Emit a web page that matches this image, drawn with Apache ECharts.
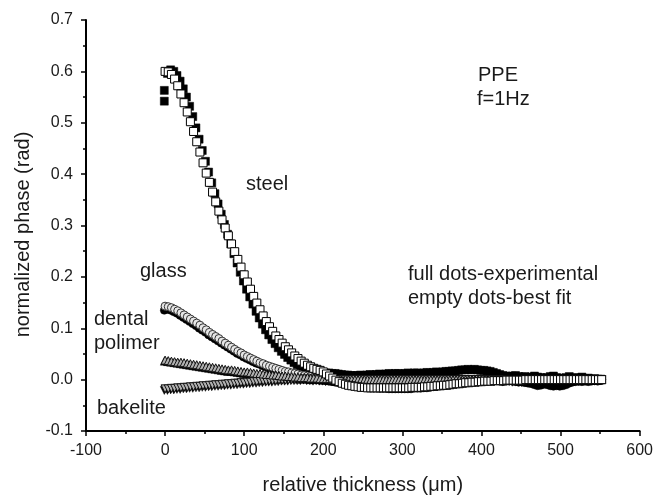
<!DOCTYPE html>
<html>
<head>
<meta charset="utf-8">
<script src="https://cdn.jsdelivr.net/npm/echarts@6/dist/echarts.min.js"></script>
<style>html,body{margin:0;padding:0;background:#fff}#chart{width:656px;height:500px}</style>
</head>
<body>
<div id="chart"></div>
<script>
// ---- data ----
const xTickLabels = ['-100','0','100','200','300','400','500','600'];
const yTickLabels = ['-0.1','0.0','0.1','0.2','0.3','0.4','0.5','0.6','0.7'];

// thickness (µm) of best-fit points
const fitX = [
0,4,8,12,16,20,24,28,32,36,
40,44,48,52,56,60,64,68,72,76,
80,84,88,92,96,100,104,108,112,116,
120,124,128,132,136,140,144,148,152,156,
160,164,168,172,176,180,184,188,192,196,
200,204,208,212,216,220,224,228,232,236,
240,244,248,252,256,260,264,268,272,276,
280,284,288,292,296,300,304,308,312,316,
320,324,328,332,336,340,344,348,352,356,
360,364,368,372,376,380,384,388,392,396,
400,404,408,412,416,420,424,428,432,436,
440,444,448,452,456,460,464,468,472,476,
480,484,488,492,496,500,504,508,512,516,
520,524,528,532,536,540,544,548,552];

// thickness (µm) of experimental points
const expX = [
-1,3,7,11,15,19,23,27,31,35,
39,43,47,51,55,59,63,67,71,75,
79,83,87,91,95,99,103,107,111,115,
119,123,127,131,135,139,143,147,151,155,
159,163,167,171,175,179,183,187,191,195,
199,203,207,211,215,219,223,227,231,235,
239,243,247,251,255,259,263,267,271,275,
279,283,287,291,295,299,303,307,311,315,
319,323,327,331,335,339,343,347,351,355,
359,363,367,371,375,379,383,387,391,395,
399,403,407,411,415,419,423,427,431,435,
439,443,447,451,455,459,463,467,471,475,
479,483,487,491,495,499,503,507,511,515,
519,523,527,531,535,539,543,547,551];

const steelFit = [
0.600,0.599,0.594,0.585,0.572,0.556,0.539,0.521,0.502,0.483,
0.463,0.443,0.422,0.402,0.384,0.365,0.346,0.328,0.311,0.295,
0.280,0.264,0.249,0.234,0.219,0.204,0.190,0.176,0.162,0.149,
0.136,0.124,0.113,0.103,0.094,0.085,0.078,0.071,0.064,0.058,
0.052,0.046,0.041,0.036,0.032,0.028,0.025,0.022,0.020,0.018,
0.015,0.011,0.007,0.003,-0.001,-0.004,-0.007,-0.009,-0.011,-0.012,
-0.013,-0.014,-0.015,-0.015,-0.016,-0.016,-0.016,-0.016,-0.016,-0.016,
-0.016,-0.016,-0.016,-0.016,-0.016,-0.016,-0.016,-0.016,-0.015,-0.015,
-0.015,-0.015,-0.014,-0.014,-0.013,-0.013,-0.012,-0.012,-0.011,-0.011,
-0.010,-0.009,-0.008,-0.008,-0.007,-0.006,-0.006,-0.005,-0.005,-0.004,
-0.004,-0.003,-0.003,-0.003,-0.002,-0.002,-0.002,-0.002,-0.001,-0.001,
-0.001,-0.001,-0.001,-0.001,0.000,0.000,0.000,0.000,0.000,0.000,
0.000,0.000,0.000,0.000,0.000,0.000,0.000,0.000,0.000,0.000,
0.000,0.000,0.000,0.000,0.000,0.000,0.000,0.000,0.000];

const glassFit = [
0.143,0.142,0.140,0.137,0.134,0.130,0.126,0.122,0.118,0.114,
0.110,0.106,0.101,0.097,0.092,0.088,0.084,0.080,0.075,0.071,
0.067,0.063,0.059,0.055,0.052,0.048,0.045,0.042,0.039,0.036,
0.033,0.031,0.028,0.026,0.024,0.022,0.020,0.018,0.016,0.015,
0.013,0.012,0.011,0.009,0.008,0.007,0.006,0.005,0.004,0.003,
0.003,0.002,0.001,0.001,0.000,0.000,-0.001,-0.001,-0.001,-0.002,
-0.002,-0.002,-0.002,-0.002,-0.003,-0.003,-0.003,-0.003,-0.003,-0.003,
-0.003,-0.003,-0.003,-0.003,-0.003,-0.003,-0.003,-0.003,-0.003,-0.003,
-0.003,-0.003,-0.003,-0.003,-0.003,-0.003,-0.003,-0.003,-0.003,-0.003,
-0.003,-0.003,-0.003,-0.002,-0.002,-0.002,-0.002,-0.002,-0.002,-0.002,
-0.002,-0.002,-0.001,-0.001,-0.001,-0.001,-0.001,-0.001,-0.001,-0.001,
-0.001,-0.001,-0.001,-0.001,0.000,0.000,0.000,0.000,0.000,0.000,
0.000,0.000,0.000,0.000,0.000,0.000,0.000,0.000,0.000,0.000,
0.000,0.000,0.000,0.000,0.000,0.000,0.000,0.000,0.000];

const dentalFit = [
0.038,0.037,0.036,0.035,0.034,0.034,0.033,0.032,0.031,0.030,
0.029,0.028,0.027,0.026,0.025,0.024,0.023,0.022,0.021,0.020,
0.019,0.019,0.018,0.017,0.016,0.015,0.015,0.014,0.013,0.012,
0.012,0.011,0.010,0.010,0.009,0.009,0.008,0.007,0.007,0.006,
0.006,0.005,0.005,0.004,0.004,0.004,0.003,0.003,0.003,0.002,
0.002,0.002,0.002,0.001,0.001,0.001,0.001,0.001,0.000,0.000,
0.000,0.000,0.000,0.000,0.000,0.000,0.000,0.000,0.000,0.000,
0.000,0.000,0.000,0.000,0.000,0.000,0.000,0.000,0.000,0.000,
0.000,0.000,0.000,0.000,0.000,0.000,0.000,0.000,0.000,0.000,
0.000,0.000,0.000,0.000,0.000,0.000,0.000,0.000,0.000,0.000,
0.000,0.000,0.000,0.000,0.000,0.000,0.000,0.000,0.000,0.000,
0.000,0.000,0.000,0.000,0.000,0.000,0.000,0.000,0.000,0.000,
0.000,0.000,0.000,0.000,0.000,0.000,0.000,0.000,0.000,0.000,
0.000,0.000,0.000,0.000,0.000,0.000,0.000,0.000,0.000];

const bakeliteFit = [
-0.018,-0.018,-0.017,-0.017,-0.016,-0.016,-0.015,-0.015,-0.014,-0.014,
-0.013,-0.013,-0.012,-0.012,-0.011,-0.011,-0.010,-0.010,-0.009,-0.009,
-0.008,-0.008,-0.007,-0.007,-0.006,-0.006,-0.005,-0.005,-0.004,-0.004,
-0.003,-0.003,-0.003,-0.002,-0.002,-0.002,-0.001,-0.001,-0.001,0.000,
0.000,0.000,0.000,0.001,0.001,0.001,0.001,0.001,0.001,0.001,
0.001,0.001,0.001,0.001,0.000,0.000,0.000,0.000,0.000,0.000,
0.000,0.000,0.000,0.000,0.000,0.000,0.000,0.000,0.000,0.000,
0.000,0.000,0.000,0.000,0.000,0.000,0.000,0.000,0.000,0.000,
0.000,0.000,0.000,0.000,0.000,0.000,0.000,0.000,0.000,0.000,
0.000,0.000,0.000,0.000,0.000,0.000,0.000,0.000,0.000,0.000,
0.000,0.000,0.000,0.000,0.000,0.000,0.000,0.000,0.000,0.000,
0.000,0.000,0.000,0.000,0.000,0.000,0.000,0.000,0.000,0.000,
0.000,0.000,0.000,0.000,0.000,0.000,0.000,0.000,0.000,0.000,
0.000,0.000,0.000,0.000,0.000,0.000,0.000,0.000,0.000];

// experimental (full dots)
const steelExpHeadX = [-1];
const steelExpHeadY = [0.563];
const steelExp = [
0.542,0.596,0.603,0.600,0.592,0.581,0.566,0.550,0.532,0.512,
0.490,0.468,0.446,0.425,0.404,0.383,0.362,0.342,0.322,0.302,
0.283,0.264,0.245,0.227,0.209,0.192,0.176,0.161,0.147,0.133,
0.120,0.108,0.097,0.087,0.078,0.070,0.062,0.055,0.049,0.043,
0.038,0.033,0.029,0.026,0.023,0.020,0.018,0.016,0.015,0.014,
0.014,0.013,0.013,0.012,0.012,0.011,0.010,0.009,0.009,0.008,
0.008,0.008,0.009,0.008,0.009,0.010,0.009,0.010,0.011,0.010,
0.011,0.012,0.011,0.012,0.012,0.011,0.012,0.013,0.012,0.013,
0.013,0.012,0.013,0.014,0.013,0.014,0.015,0.014,0.015,0.016,
0.016,0.017,0.017,0.018,0.019,0.019,0.020,0.019,0.020,0.019,
0.018,0.018,0.017,0.016,0.014,0.012,0.010,0.008,0.007,0.006,
0.007,0.008,0.006,0.005,0.006,0.004,0.005,0.007,0.005,0.004,
0.003,0.004,0.006,0.007,0.004,0.003,0.002,0.004,0.006,0.003,
0.004,0.003,0.005,0.002,0.003,0.001,0.002,0.001,0.001];

const glassExp = [
0.135,0.137,0.135,0.132,0.129,0.125,0.121,0.117,0.113,0.109,
0.105,0.100,0.096,0.092,0.087,0.083,0.079,0.075,0.071,0.067,
0.063,0.059,0.055,0.051,0.048,0.044,0.041,0.038,0.035,0.032,
0.030,0.027,0.025,0.022,0.020,0.018,0.016,0.014,0.013,0.011,
0.010,0.008,0.007,0.006,0.005,0.004,0.003,0.002,0.001,0.000,
-0.001,-0.002,-0.003,-0.004,-0.005,-0.006,-0.007,-0.008,-0.009,-0.010,
-0.011,-0.012,-0.013,-0.014,-0.015,-0.015,-0.016,-0.016,-0.017,-0.017,
-0.017,-0.018,-0.018,-0.018,-0.018,-0.018,-0.018,-0.018,-0.018,-0.017,
-0.017,-0.017,-0.016,-0.016,-0.015,-0.014,-0.013,-0.012,-0.011,-0.010,
-0.009,-0.008,-0.007,-0.006,-0.006,-0.005,-0.005,-0.004,-0.004,-0.004,
-0.003,-0.003,-0.003,-0.002,-0.003,-0.002,-0.003,-0.004,-0.003,-0.002,
-0.003,-0.004,-0.005,-0.004,-0.006,-0.007,-0.008,-0.010,-0.012,-0.011,
-0.009,-0.010,-0.012,-0.013,-0.012,-0.013,-0.012,-0.010,-0.007,-0.005,
-0.004,-0.003,-0.004,-0.003,-0.004,-0.003,-0.002,-0.003,-0.002];

const dentalExp = [
0.036,0.035,0.034,0.033,0.032,0.031,0.030,0.029,0.028,0.027,
0.026,0.025,0.024,0.023,0.022,0.021,0.020,0.019,0.018,0.017,
0.016,0.016,0.015,0.014,0.013,0.012,0.012,0.011,0.010,0.009,
0.009,0.008,0.007,0.007,0.006,0.006,0.005,0.004,0.004,0.003,
0.003,0.002,0.002,0.001,0.001,0.001,0.000,0.000,0.001,0.000,
-0.001,0.000,0.001,0.000,-0.001,0.000,0.001,0.000,0.000,-0.001,
0.000,0.001,0.000,-0.001,0.000,0.000,0.001,0.000,-0.001,0.000,
0.001,0.000,0.000,-0.001,0.000,0.001,0.000,0.000,-0.001,0.000,
0.000,0.001,0.000,-0.001,0.000,0.000,0.001,0.000,0.000,-0.001,
0.000,0.001,0.002,0.001,0.000,0.001,0.000,-0.001,0.000,0.001,
0.000,0.000,-0.001,0.000,0.001,0.000,0.000,-0.001,0.000,0.001,
0.000,-0.001,0.000,0.001,0.000,0.000,-0.001,0.000,0.001,0.000,
0.000,-0.001,0.000,0.001,0.000,0.000,-0.001,0.000,0.001,0.000,
0.000,-0.001,0.000,0.001,0.000,0.000,-0.001,0.000,0.000];

const bakeliteExp = [
-0.021,-0.021,-0.020,-0.020,-0.019,-0.019,-0.018,-0.018,-0.017,-0.017,
-0.016,-0.016,-0.015,-0.015,-0.014,-0.014,-0.013,-0.013,-0.012,-0.012,
-0.011,-0.011,-0.010,-0.010,-0.009,-0.009,-0.008,-0.008,-0.007,-0.007,
-0.006,-0.006,-0.005,-0.005,-0.005,-0.004,-0.004,-0.003,-0.003,-0.003,
-0.002,-0.002,-0.002,-0.002,-0.001,-0.002,-0.002,-0.003,-0.002,-0.003,
-0.003,-0.004,-0.003,-0.004,-0.004,-0.005,-0.004,-0.005,-0.005,-0.004,
-0.005,-0.004,-0.005,-0.004,-0.004,-0.003,-0.004,-0.003,-0.004,-0.003,
-0.003,-0.004,-0.003,-0.003,-0.004,-0.003,-0.003,-0.002,-0.003,-0.003,
-0.002,-0.003,-0.003,-0.002,-0.003,-0.002,-0.002,-0.003,-0.002,-0.002,
-0.003,-0.002,-0.002,-0.001,-0.002,-0.002,-0.001,-0.002,-0.002,-0.001,
-0.002,-0.002,-0.001,-0.002,-0.003,-0.002,-0.003,-0.004,-0.003,-0.004,
-0.005,-0.004,-0.005,-0.006,-0.005,-0.006,-0.004,-0.005,-0.004,-0.003,
-0.004,-0.003,-0.004,-0.005,-0.004,-0.003,-0.004,-0.003,-0.005,-0.004,
-0.003,-0.004,-0.003,-0.002,-0.003,-0.002,-0.003,-0.002,-0.002];

// ---- chart ----
function zip(xs, ys) {
  const n = Math.min(xs.length, ys.length);
  const out = [];
  for (let i = 0; i < n; i++) out.push([xs[i], ys[i]]);
  return out;
}
const FONT = '"Liberation Sans", Arial, Helvetica, sans-serif';
const TXT = '#1a1a1a';
const X_MIN = -100, X_MAX = 600, X_STEP = 100;
const Y_MIN = -0.1, Y_MAX = 0.7, Y_STEP = 0.1;

function expSeries(data, symbol, size, rotate) {
  return {
    type: 'scatter', data: data, symbol: symbol, symbolSize: size,
    symbolRotate: rotate || 0, silent: true,
    itemStyle: { color: '#000', borderColor: '#000', borderWidth: 0.5, opacity: 1 }
  };
}
function fitSeries(data, symbol, size, rotate, fill, border) {
  return {
    type: 'scatter', data: data, symbol: symbol, symbolSize: size,
    symbolRotate: rotate || 0, silent: true,
    itemStyle: { color: fill, borderColor: border, borderWidth: 1, opacity: 1 }
  };
}

const chart = echarts.init(document.getElementById('chart'), null, { renderer: 'canvas' });
const textStyle = { fontFamily: FONT, fontSize: 20, fill: TXT, verticalAlign: 'middle', align: 'left' };
function label(text, x, y) {
  return { type: 'text', x: x, y: y, silent: true, style: Object.assign({ text: text }, textStyle) };
}

chart.setOption({
  animation: false,
  backgroundColor: '#fff',
  grid: { left: 86, right: 13, top: 20, bottom: 67 },
  xAxis: {
    type: 'value', min: X_MIN, max: X_MAX, interval: X_STEP,
    name: 'relative thickness (μm)', nameLocation: 'middle', nameGap: 44,
    nameTextStyle: { fontFamily: FONT, fontSize: 20, color: TXT },
    axisLine: { show: true, onZero: false, lineStyle: { color: '#000', width: 2 } },
    axisTick: { show: true, inside: false, length: 5, lineStyle: { color: '#000', width: 1.5 } },
    minorTick: { show: true, splitNumber: 2, length: 3, lineStyle: { color: '#000', width: 1.5 } },
    splitLine: { show: false },
    axisLabel: {
      fontFamily: FONT, fontSize: 16, color: TXT, margin: 12,
      formatter: v => xTickLabels[Math.round((v - X_MIN) / X_STEP)]
    }
  },
  yAxis: {
    type: 'value', min: Y_MIN, max: Y_MAX, interval: Y_STEP,
    name: 'normalized phase (rad)', nameLocation: 'middle', nameGap: 53, nameRotate: 90,
    nameTextStyle: { fontFamily: FONT, fontSize: 20, color: TXT, padding: [0, 18, 0, 0] },
    axisLine: { show: true, onZero: false, lineStyle: { color: '#000', width: 2 } },
    axisTick: { show: true, inside: false, length: 5, lineStyle: { color: '#000', width: 1.5 } },
    minorTick: { show: true, splitNumber: 2, length: 3, lineStyle: { color: '#000', width: 1.5 } },
    splitLine: { show: false },
    axisLabel: {
      fontFamily: FONT, fontSize: 16, color: TXT, margin: 13,
      formatter: v => yTickLabels[Math.round((v - Y_MIN) / Y_STEP)]
    }
  },
  series: [
    expSeries(zip(expX, bakeliteExp), 'triangle', 8, 180),
    expSeries(zip(expX, dentalExp), 'triangle', 8, 0),
    expSeries(zip(expX, glassExp), 'circle', 8, 0),
    expSeries(zip(expX, steelExp).concat(zip(steelExpHeadX, steelExpHeadY)), 'rect', 8, 0),
    fitSeries(zip(fitX, glassFit), 'circle', 8, 0, '#e6e6e6', '#333'),
    fitSeries(zip(fitX, bakeliteFit), 'triangle', 8, 180, '#b0b0b0', '#111'),
    fitSeries(zip(fitX, dentalFit), 'triangle', 8, 0, '#b0b0b0', '#111'),
    fitSeries(zip(fitX, steelFit), 'rect', 8, 0, '#fff', '#000')
  ],
  graphic: [
    label('PPE', 478, 75),
    label('f=1Hz', 477, 99),
    label('steel', 246, 184),
    label('glass', 140, 271),
    label('dental', 94, 319),
    label('polimer', 94, 343),
    label('bakelite', 97, 408),
    label('full dots-experimental', 408, 274),
    label('empty dots-best fit', 408, 298)
  ]
});
</script>
</body>
</html>
